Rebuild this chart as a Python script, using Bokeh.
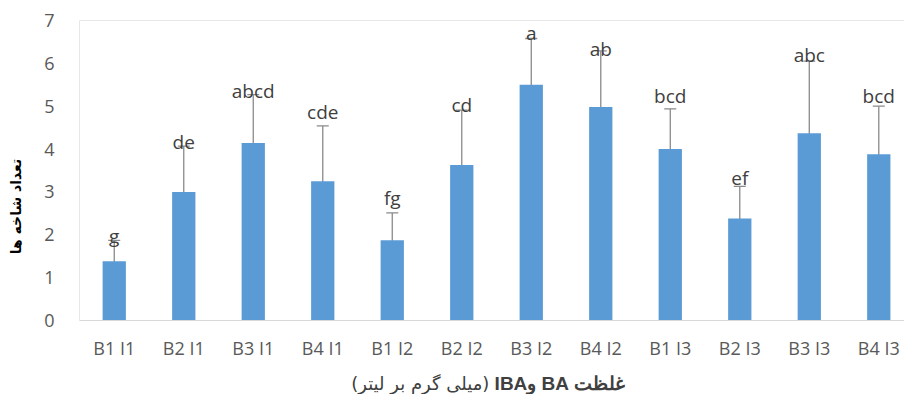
import math
from bokeh.plotting import figure
from bokeh.layouts import column, row
from bokeh.models import (Range1d, FixedTicker, Whisker, TeeHead, ColumnDataSource, Span)
from bokeh.core.properties import value
from bokeh.embed import file_html
from bokeh.resources import INLINE

# ---- data ----
categories = ["B1 I1", "B2 I1", "B3 I1", "B4 I1",
              "B1 I2", "B2 I2", "B3 I2", "B4 I2",
              "B1 I3", "B2 I3", "B3 I3", "B4 I3"]
means = [1.38, 3.00, 4.14, 3.25, 1.87, 3.63, 5.50, 4.98, 4.00, 2.38, 4.37, 3.88]
errors = [0.49, 1.07, 1.13, 1.29, 0.64, 1.28, 1.08, 1.31, 0.94, 0.75, 1.68, 1.12]
letters = ["g", "de", "abcd", "cde", "fg", "cd", "a", "ab", "bcd", "ef", "abc", "bcd"]
letter_heights = [1.97, 4.17, 5.35, 4.87, 2.87, 5.02, 6.71, 6.34, 5.25, 3.33, 6.20, 5.25]
y_ticks = [0, 1, 2, 3, 4, 5, 6, 7]
y_title = "تعداد شاخه ها"
x_title_bold = "غلظت BA وIBA"
x_title_regular = "(میلی گرم بر لیتر)"

RLE, PDF = "\u202b", "\u202c"

xs = list(range(len(categories)))
src = ColumnDataSource(dict(
    x=xs, mean=means,
    upper=[m + e for m, e in zip(means, errors)],
    lower=[m - e for m, e in zip(means, errors)],
    letter=letters, ly=letter_heights,
))

SW = 30          # left strip (y title)
W = 904 - SW     # main width
H1, H2 = 362, 32

p = figure(width=W, height=H1,
           x_range=Range1d(-0.5, 11.37), y_range=Range1d(0, 7),
           output_backend="svg", toolbar_location=None,
           min_border_left=79 - SW, min_border_right=0,
           min_border_top=20, min_border_bottom=40)
p.outline_line_color = None
p.xgrid.visible = False
p.ygrid.visible = False

p.vbar(x="x", top="mean", bottom=0, width=0.335, source=src,
       fill_color="#5b9bd5", line_color=None)

p.add_layout(Whisker(source=src, base="x", upper="upper", lower="lower",
                     line_color="#8a8a8a", line_width=1.3,
                     upper_head=TeeHead(size=12, line_color="#8a8a8a", line_width=1.3),
                     lower_head=TeeHead(size=12, line_color="#8a8a8a", line_width=1.3)))

p.text(x="x", y="ly", text="letter", source=src,
       text_font=value("Open Sans"), text_font_size="19px",
       text_color="#404040", text_align="center", text_baseline="middle")

# frame lines (top and left)
p.add_layout(Span(location=7, dimension="width", line_color="#cfcfcf", line_width=1))
p.add_layout(Span(location=-0.5, dimension="height", line_color="#cfcfcf", line_width=1))

xa = p.xaxis[0]
xa.ticker = FixedTicker(ticks=xs)
xa.major_label_overrides = {i: c for i, c in zip(xs, categories)}
xa.axis_line_color = "#d9d9d9"
xa.major_tick_line_color = None
xa.minor_tick_line_color = None
xa.major_label_text_font = "Open Sans"
xa.major_label_text_font_size = "18px"
xa.major_label_text_color = "#595959"
xa.major_label_standoff = 9

ya = p.yaxis[0]
ya.ticker = FixedTicker(ticks=y_ticks)
ya.axis_line_color = None
ya.major_tick_line_color = None
ya.minor_tick_line_color = None
ya.major_label_text_font = "Open Sans"
ya.major_label_text_font_size = "18px"
ya.major_label_text_color = "#595959"
ya.major_label_standoff = 19

def strip(width, height):
    f = figure(width=width, height=height, x_range=Range1d(0, width),
               y_range=Range1d(0, height), output_backend="svg",
               toolbar_location=None, min_border=0, min_border_left=0,
               min_border_right=0, min_border_top=0, min_border_bottom=0)
    f.axis.visible = False
    f.grid.visible = False
    f.outline_line_color = None
    return f

# y-axis title strip on the left
s = strip(SW, H1 + H2)
s.text(x=[15], y=[H1 + H2 - 206], text=[RLE + y_title + PDF], angle=math.pi / 2,
       text_font=value("DejaVu Sans"), text_font_size="14px", text_font_style="bold",
       text_color="#000000", text_align="center", text_baseline="middle")

# x-axis title strip underneath (regular part + bold part)
t = strip(W, H2)
t.text(x=[391 - SW], y=[11], text=[RLE + x_title_regular + PDF],
       text_font=value("DejaVu Sans"), text_font_size="18px",
       text_color="#404040", text_align="center", text_baseline="middle")
t.text(x=[539 - SW], y=[11], text=[RLE + x_title_bold + PDF],
       text_font=value("Liberation Sans"), text_font_size="19px", text_font_style="bold",
       text_color="#404040", text_align="center", text_baseline="middle")

layout = row(s, column(p, t, spacing=0), spacing=0)
open("out.html", "w").write(file_html(layout, INLINE))
